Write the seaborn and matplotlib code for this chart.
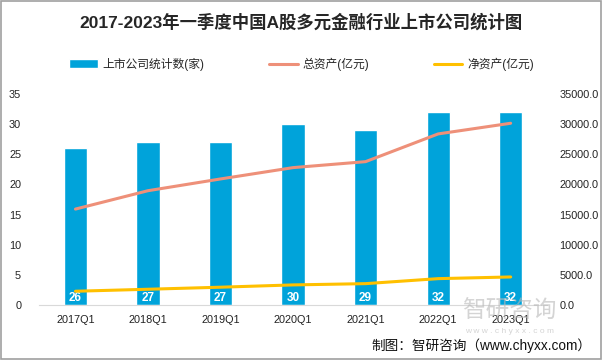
import matplotlib
matplotlib.use("Agg")
import matplotlib.pyplot as plt
import seaborn as sns
import pandas as pd

# data
quarters = ["2017Q1", "2018Q1", "2019Q1", "2020Q1", "2021Q1", "2022Q1", "2023Q1"]
company_counts = [26, 27, 27, 30, 29, 32, 32]
total_assets = [15900, 18950, 20900, 22780, 23770, 28370, 30140]
net_assets = [2270, 2600, 2940, 3320, 3530, 4360, 4640]

df = pd.DataFrame({"quarter": quarters, "count": company_counts,
                   "total": total_assets, "net": net_assets})

sns.set_style("white")
# Latin glyphs from Liberation Sans, CJK falls through to Noto
plt.rcParams["font.family"] = ["Liberation Sans", "Noto Sans CJK SC", "DejaVu Sans"]

bar_color = "#00A3DA"
total_color = "#EE9079"
net_color = "#FFC000"

fig = plt.figure(figsize=(6.03, 3.6), dpi=100)
ax = fig.add_axes([0.065, 0.153, 0.842, 0.586])

sns.barplot(data=df, x="quarter", y="count", color=bar_color, width=0.32,
            saturation=1, ax=ax, label="上市公司统计数(家)", legend=False)
ax.set_ylim(0, 35)
ax.set_yticks(range(0, 36, 5))
ax.set_xlabel("")
ax.set_ylabel("")
for i, v in enumerate(company_counts):
    ax.text(i, 1.2, str(v), color="white", ha="center", va="center", fontsize=8.5,
            fontweight="bold")

ax2 = ax.twinx()
x_pos = list(range(len(quarters)))
sns.lineplot(x=x_pos, y=total_assets, color=total_color, linewidth=2.2, ax=ax2,
             label="总资产(亿元)", legend=False)
sns.lineplot(x=x_pos, y=net_assets, color=net_color, linewidth=2.2, ax=ax2,
             label="净资产(亿元)", legend=False)
ax2.set_ylim(0, 35000)
ax2.set_yticks(range(0, 35001, 5000))
ax2.set_yticklabels([f"{t:.1f}" for t in range(0, 35001, 5000)])
ax.set_xlim(-0.5, len(quarters) - 0.5)

for a in (ax, ax2):
    for s in a.spines.values():
        s.set_visible(False)
    a.tick_params(length=0, labelsize=7.8, colors="#222222")
ax.spines["bottom"].set_visible(True)
ax.spines["bottom"].set_color("#d9d9d9")
ax.tick_params(axis="y", pad=13)
ax2.tick_params(axis="y", pad=9)
ax.tick_params(axis="x", pad=7)

h1, l1 = ax.get_legend_handles_labels()
h2, l2 = ax2.get_legend_handles_labels()
if ax.get_legend() is not None:
    ax.get_legend().remove()
fig.legend(h1 + h2, l1 + l2, loc="center", bbox_to_anchor=(0.5, 0.822), ncol=3,
           frameon=False, fontsize=8.5, handlelength=2.4, columnspacing=5.5,
           handletextpad=0.4)

fig.text(0.5, 0.94, "2017-2023年一季度中国A股多元金融行业上市公司统计图",
         ha="center", va="center", fontsize=12.5, fontweight="bold")

# watermark and source
fig.text(0.845, 0.135, "智研咨询", ha="center", va="center", fontsize=17,
         color="#b8b8b8", alpha=0.6, zorder=0)
fig.text(0.845, 0.078, "w w w . c h y x x . c o m", ha="center", va="center",
         fontsize=6, color="#b8b8b8", alpha=0.6, zorder=0)
fig.text(0.98, 0.04, "制图：智研咨询（www.chyxx.com）", ha="right", va="center",
         fontsize=9.8, color="#111111")

fig.patches.append(plt.Rectangle((0.002, 0.003), 0.995, 0.994, transform=fig.transFigure,
                                 fill=False, edgecolor="#a0a0a0", linewidth=1.2))

fig.savefig("out.png", dpi=100)
